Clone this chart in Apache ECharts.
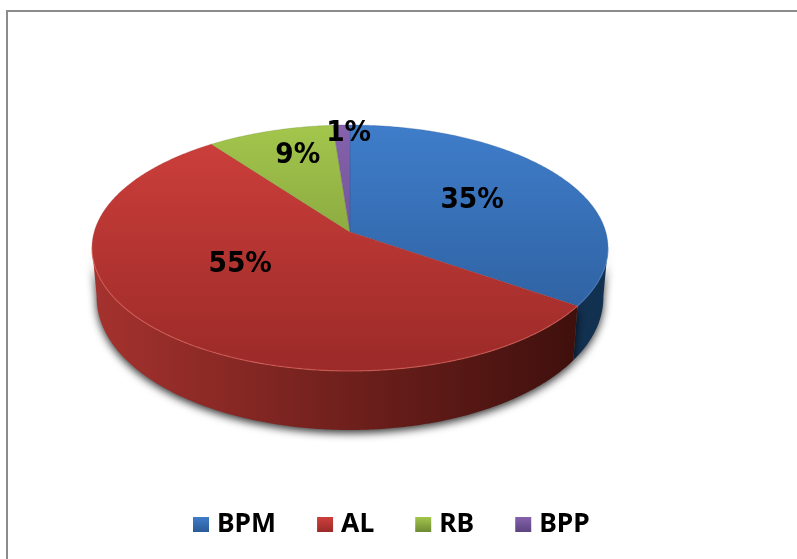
<!DOCTYPE html>
<html>
<head>
<meta charset="utf-8">
<style>html,body{margin:0;padding:0;background:#fff}#c{width:797px;height:559px}</style>
<script src="https://cdn.jsdelivr.net/npm/echarts@6/dist/echarts.min.js"></script>
</head>
<body>
<div id="c"></div>
<script>
const categories = ['BPM', 'AL', 'RB', 'BPP'];
const values = [34.6, 55.2, 9.0, 1.2];

const topColors = [['#3F7DCA', '#2A5A96'], ['#CF403C', '#9B2A28'], ['#A3C64C', '#6F8A34'], ['#8562AC', '#5C4480']];
const wallColors = [['#12304F', '#12304F'], ['#A5322E', '#3A0E0B'], ['#6F8A34', '#4A5E20'], ['#4E3A70', '#3A2A55']];
const rimColors = ['rgba(90,140,210,0.5)', 'rgba(232,110,100,0.55)', 'rgba(0,0,0,0)', 'rgba(0,0,0,0)'];
const legendColors = ['#3A74BC', '#C33B38', '#94B544', '#7D5CA3'];
const labelShift = [[-9, 1], [3, -23], [-2, -13], [4, -31]];

const total = values.reduce((a, b) => a + b, 0);
const P = { cx: 350, apexY: 232, bx: 255.8, by: 120.9, k: 0.13 };

function project(t, r) {
  const u = Math.sin(t) * r, v = Math.cos(t) * r, d = 1 + P.k * v;
  return [P.cx + P.bx * u / d, P.apexY - P.by * v / d];
}
function lower(t) {
  const p = project(t, 1), v = Math.cos(t);
  return [P.cx + (p[0] - P.cx) * 0.982, p[1] + 48 + 11 * Math.abs(v)];
}
function arc(a, b, fn) {
  const n = Math.max(2, Math.ceil(Math.abs(b - a) / 0.01)), pts = [];
  for (let i = 0; i <= n; i++) pts.push(fn(a + (b - a) * i / n));
  return pts;
}
function vgrad(c, y0, y1) {
  return { type: 'linear', x: 0, y: y0, x2: 0, y2: y1, global: true,
    colorStops: [{ offset: 0, color: c[0] }, { offset: 1, color: c[1] }] };
}
function hgrad(c, x0, x1) {
  return { type: 'linear', x: x0, y: 0, x2: x1, y2: 0, global: true,
    colorStops: [{ offset: 0, color: c[0] }, { offset: 1, color: c[1] }] };
}
const WALL_A = 97 * Math.PI / 180, WALL_B = 263 * Math.PI / 180;

function renderSlice(params) {
  const i = params.seriesIndex;
  let before = 0;
  for (let j = 0; j < i; j++) before += values[j];
  const t0 = before / total * 2 * Math.PI;
  const t1 = (before + values[i]) / total * 2 * Math.PI;
  const kids = [];
  const a = Math.max(t0, WALL_A), b = Math.min(t1, WALL_B);
  if (b > a) {
    const upper = arc(a, b, t => project(t, 1));
    const low = arc(a, b, lower).reverse();
    kids.push({
      type: 'polygon', z2: 1, silent: true,
      shape: { points: upper.concat(low) },
      style: { fill: hgrad(wallColors[i], 92, 600), shadowBlur: 9, shadowOffsetY: 3, shadowColor: 'rgba(0,0,0,0.8)' }
    });
    kids.push({
      type: 'polyline', z2: 3, silent: true,
      shape: { points: upper },
      style: { fill: 'none', stroke: rimColors[i], lineWidth: 1.2 }
    });
  }
  kids.push({
    type: 'polygon', z2: 2, silent: true,
    shape: { points: [[P.cx, P.apexY]].concat(arc(t0, t1, t => project(t, 1))) },
    style: { fill: vgrad(topColors[i], 125, 371), stroke: topColors[i][1], lineWidth: 0.3 }
  });
  const mid = (t0 + t1) / 2, lp = project(mid, 0.6);
  kids.push({
    type: 'text', z2: 5, silent: true,
    x: lp[0] + labelShift[i][0], y: lp[1] + labelShift[i][1],
    scaleY: 1.08,
    style: {
      text: Math.round(values[i] / total * 100) + '%',
      x: 0, y: 0,
      align: 'center', verticalAlign: 'middle',
      font: 'bold 26.5px "DejaVu Sans"', fill: '#000'
    }
  });
  return { type: 'group', children: kids };
}

const chart = echarts.init(document.getElementById('c'), null, { renderer: 'canvas' });
chart.setOption({
  animation: false,
  backgroundColor: '#fff',
  graphic: [{
    type: 'rect', silent: true,
    shape: { x: 7, y: 11, width: 900, height: 700 },
    style: { fill: 'none', stroke: '#8C8C8C', lineWidth: 2 }
  }],
  legend: {
    left: 193, top: 511, padding: 0, itemGap: 41, itemWidth: 16, itemHeight: 15, icon: 'rect',
    selectedMode: false,
    textStyle: { fontFamily: '"Noto Sans"', fontWeight: 'bold', fontSize: 26.5, color: '#000', padding: [0, 0, 0, 3] },
    data: categories.map((name, i) => ({
      name,
      itemStyle: { color: { type: 'linear', x: 0, y: 0, x2: 0, y2: 1,
        colorStops: [{ offset: 0, color: topColors[i][0] }, { offset: 1, color: topColors[i][1] }] } }
    }))
  },
  series: categories.map((name, i) => ({
    type: 'custom', name, coordinateSystem: 'none', silent: true,
    itemStyle: { color: legendColors[i] },
    renderItem: renderSlice,
    data: [values[i]]
  }))
});
</script>
</body>
</html>
